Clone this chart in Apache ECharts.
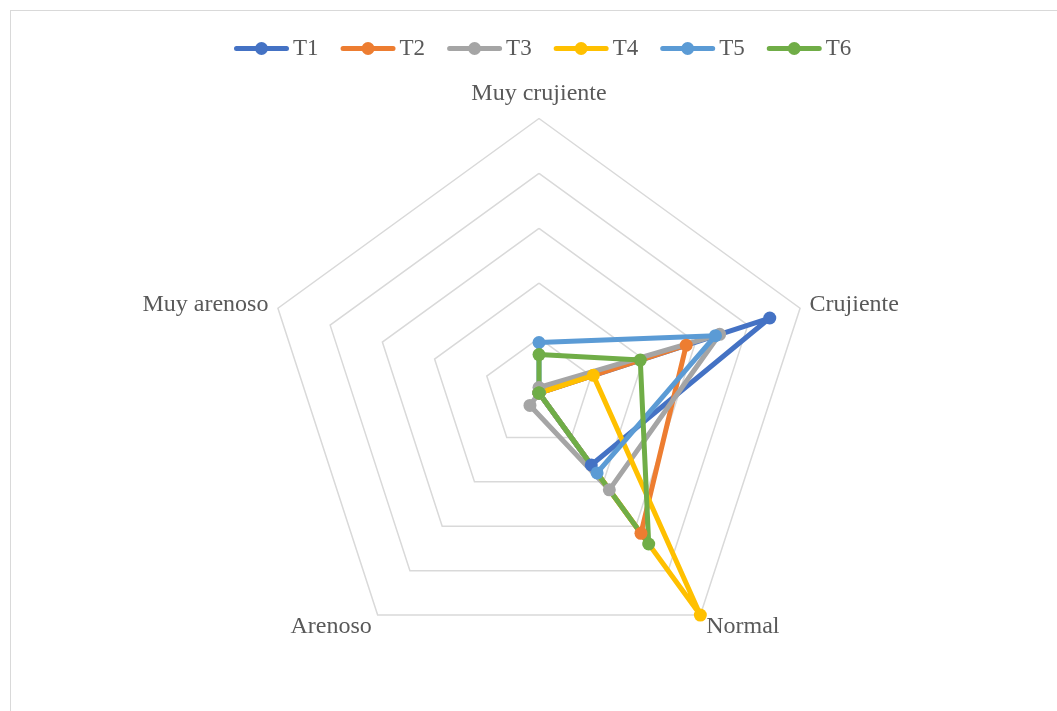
<!DOCTYPE html>
<html>
<head>
<meta charset="utf-8">
<script src="https://cdn.jsdelivr.net/npm/echarts@6/dist/echarts.min.js"></script>
<style>
  html, body { margin: 0; padding: 0; background: #ffffff; overflow: hidden; }
  #frame { position: absolute; left: 10px; top: 10px; width: 1200px; height: 900px; border: 1px solid #d9d9d9; box-sizing: border-box; }
  #chart { position: absolute; left: 0; top: 0; width: 1057px; height: 711px; }
</style>
</head>
<body>
<div id="frame"></div>
<div id="chart"></div>
<script>
// Categories in the reference's clockwise order, starting at the top
const categories = ['Muy crujiente', 'Crujiente', 'Normal', 'Arenoso', 'Muy arenoso'];
const seriesNames = ['T1', 'T2', 'T3', 'T4', 'T5', 'T6'];
const T1 = [0, 22.1, 8.1, 0, 0];
const T2 = [0, 14.1, 15.8, 0, 0];
const T3 = [0.5, 17.3, 10.9, 1.4, 0];
const T4 = [0, 5.2, 25, 0, 0];
const T5 = [4.6, 16.9, 9.0, 0, 0];
const T6 = [3.5, 9.7, 17.0, 0, 0];
const axisMax = 25;
const colors = ['#4472C4', '#ED7D31', '#A5A5A5', '#FFC000', '#5B9BD5', '#70AD47'];

const allData = [T1, T2, T3, T4, T5, T6];
// ECharts places radar indicators counter-clockwise; reorder to get clockwise layout
const order = [0, 4, 3, 2, 1];
const indicators = order.map(i => ({ name: categories[i], max: axisMax, min: 0 }));

const chart = echarts.init(document.getElementById('chart'), null, { renderer: 'canvas' });
const font = '"Liberation Serif", "Times New Roman", serif';
// legend icon: line with a circular marker in the middle (same winding for both shapes)
const lineMarkerIcon = 'path://M2.5,4h50a2.5,2.5 0 0,1 0,5h-50a2.5,2.5 0 0,1 0,-5z M21,6.5a6.5,6.5 0 1,1 13,0a6.5,6.5 0 1,1 -13,0z';

chart.setOption({
  animation: false,
  color: colors,
  legend: {
    top: 32,
    left: 229,
    itemWidth: 55,
    itemHeight: 13,
    itemGap: 22,
    icon: lineMarkerIcon,
    textStyle: { fontFamily: font, fontSize: 23, color: '#595959', padding: [0, 0, 0, -1] },
    data: seriesNames
  },
  radar: {
    center: [539, 393],
    radius: 274.5,
    startAngle: 90,
    shape: 'polygon',
    splitNumber: 5,
    nameGap: 10,
    indicator: indicators,
    axisName: {
      color: '#595959',
      fontFamily: font,
      fontSize: 24,
      verticalAlign: 'middle',
      formatter: function (name) {
        if (name === categories[0]) return '{top|' + name + '}';
        if (name === categories[2] || name === categories[3]) return '{low|' + name + '}';
        return name;
      },
      rich: {
        top: { fontFamily: font, fontSize: 24, color: '#595959', padding: [0, 0, 30, 0] },
        low: { fontFamily: font, fontSize: 24, color: '#595959', padding: [8, 0, 0, 0] }
      }
    },
    axisLine: { show: false },
    axisTick: { show: false },
    axisLabel: { show: false },
    splitArea: { show: false },
    splitLine: { lineStyle: { color: '#d9d9d9', width: 1.5 } }
  },
  series: seriesNames.map((n, k) => ({
    name: n,
    type: 'radar',
    symbol: 'circle',
    symbolSize: 13,
    lineStyle: { width: 5, color: colors[k] },
    itemStyle: { color: colors[k] },
    data: [{ name: n, value: order.map(i => allData[k][i]) }]
  }))
});
</script>
</body>
</html>
